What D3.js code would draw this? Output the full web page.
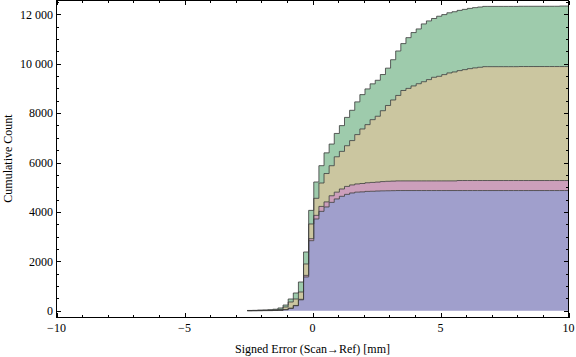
<!DOCTYPE html>
<html><head><meta charset="utf-8">
<script src="https://cdn.jsdelivr.net/npm/d3@7"></script>
<style>
html,body{margin:0;padding:0;background:#fff;}
svg{display:block;font-family:"Liberation Serif","Times New Roman",serif;}
</style></head><body>
<svg id="chart" width="576" height="357"></svg>
<script>
// ---- data (cumulative counts per bin, per group) ----
const binEdges = [-2.55,-2.35,-2.15,-1.95,-1.75,-1.55,-1.35,-1.15,-0.95,-0.75,-0.55,-0.35,-0.15,
  0.05,0.25,0.45,0.65,0.85,1.05,1.25,1.45,1.65,1.85,2.05,2.25,2.45,2.65,2.85,3.05,3.25,3.45,3.65,3.85,
  4.05,4.25,4.45,4.65,4.85,5.05,5.25,5.45,5.65,5.85,6.05,6.25,6.45,6.65,6.85,7.05,7.25,7.45,7.65,7.85,
  8.05,8.25,8.45,8.65,8.85,9.05,9.25,9.45,9.65,9.85];
const binWidth = 0.2;

const purpleCounts = [1,2,3,5,5,10,15,40,93,200,440,1365,2835,3713,4022,4200,4386,4524,4630,4710,4766,4800,4810,4830,4835,4845,4852,4856,4860,
  4865,4865,4865,4865,4865,4865,4865,4865,4865,4865,4865,4865,4865,4865,4865,4865,4865,
  4865,4865,4865,4865,4865,4865,4865,4865,4865,4865,4865,4865,4865,4865,4865,4865,4865];
const pinkCounts = [0,0,0,0,1,1,2,5,7,12,22,65,81,147,200,205,268,275,298,322,326,332,340,350,358,362,375,382,386,
  390,390,390,390,390,390,390,390,390,390,390,390,
  405,405,405,405,405,405,405,405,405,405,405,405,405,405,405,405,405,405,405,405,405,405];
const tanCounts = [2,3,7,10,14,19,33,105,252,262,295,461,595,690,948,1149,1216,1433,1522,1648,
  1795,1998,2208,2353,2541,2665,2870,3070,3285,3460,3660,3745,3845,3935,4015,4101,4195,4235,4303,4371,
  4411,4450,4490,4530,4560,4585,
  4610,4610,4610,4610,4610,4610,4610,
  4615,4615,4615,4615,4615,4615,4615,4615,4615,4615];
const greenCounts = [7,10,15,15,20,30,60,80,122,243,405,486,551,661,701,836,877,944,1043,1146,
  1227,1324,1390,1446,1450,1457,1465,1512,1630,1800,1899,2055,2160,2218,2341,2377,2380,2432,2430,2435,
  2438,2440,2440,2440,2440,2440,2440,2440,2440,2440,2440,2440,2440,2440,2440,2440,2440,2440,2440,2440,2440,
  2450,2450];

const seriesKeys = ["purple","pink","tan","green"];
const seriesColors = ["#a09fcc","#cc9fbb","#cbc6a0","#9ecbac"];

const xMajorTicks = [-10,-5,0,5,10];
const xMinorTicks = [-9,-8,-7,-6,-4,-3,-2,-1,1,2,3,4,6,7,8,9];
const yMajorTicks = [0,2000,4000,6000,8000,10000,12000];
const yMinorTicks = [500,1000,1500,2500,3000,3500,4500,5000,5500,6500,7000,7500,8500,9000,9500,10500,11000,11500,12500];
const yTickLabels = ["0","2000","4000","6000","8000","10 000","12 000"];
const xTickLabels = ["\u221210","\u22125","0","5","10"];
const xTitle = "Signed Error (Scan\u2192Ref) [mm]";
const yTitle = "Cumulative Count";

// ---- layout ----
const svg = d3.select("#chart");
const L = 56.5, R = 568.5, T = 0.5, B = 317.5;
const x = d3.scaleLinear().domain([-10,10]).range([L,R]);
const y = d3.scaleLinear().domain([0,12000]).range([310.7,14.3]);

const rows = binEdges.map((e,i)=>({x0:e, purple:purpleCounts[i], pink:pinkCounts[i], tan:tanCounts[i], green:greenCounts[i]}));
const last = rows[rows.length-1];
rows.push(Object.assign({}, last, {x0: last.x0 + binWidth}));

const stacked = d3.stack().keys(seriesKeys)(rows);

svg.append("defs").append("clipPath").attr("id","clip")
  .append("rect").attr("x",L).attr("y",T).attr("width",R-L).attr("height",B-T);

const g = svg.append("g").attr("clip-path","url(#clip)");
const area = d3.area().curve(d3.curveStepAfter)
  .x(d=>x(d.data.x0)).y0(d=>y(d[0])).y1(d=>y(d[1]));
const line = d3.line().curve(d3.curveStepAfter)
  .x(d=>x(d.data.x0)).y(d=>y(d[1]));

g.selectAll("path.area").data(stacked).join("path")
  .attr("class","area").attr("d",area)
  .attr("fill",(d,i)=>seriesColors[i]).attr("stroke","none");
g.selectAll("path.edge").data(stacked).join("path")
  .attr("class","edge").attr("d",line)
  .attr("fill","none").attr("stroke","#3a3a3a").attr("stroke-opacity",0.8).attr("stroke-width",1);

// ---- frame & ticks ----
const fr = svg.append("g").attr("stroke","#000").attr("stroke-width",1).attr("shape-rendering","crispEdges");
fr.append("rect").attr("x",L).attr("y",T).attr("width",R-L).attr("height",B-T).attr("fill","none");
function xt(v,len){
  const px = Math.round(x(v)) + 0.5;
  fr.append("line").attr("x1",px).attr("x2",px).attr("y1",B).attr("y2",B-len);
  fr.append("line").attr("x1",px).attr("x2",px).attr("y1",T).attr("y2",T+len);
}
function yt(v,len){
  const py = Math.round(y(v)) + 0.5;
  fr.append("line").attr("x1",L).attr("x2",L+len).attr("y1",py).attr("y2",py);
  fr.append("line").attr("x1",R).attr("x2",R-len).attr("y1",py).attr("y2",py);
}
xMajorTicks.forEach(v=>xt(v,4.5));
xMinorTicks.forEach(v=>xt(v,2.5));
yMajorTicks.forEach(v=>yt(v,4.5));
yMinorTicks.forEach(v=>yt(v,2.5));

const lab = svg.append("g").attr("fill","#000").attr("font-size","12px");
lab.selectAll("text.xl").data(xMajorTicks).join("text").attr("class","xl")
  .attr("x",d=>x(d)).attr("y",331.5).attr("text-anchor","middle")
  .text((d,i)=>xTickLabels[i]);
lab.selectAll("text.yl").data(yMajorTicks).join("text").attr("class","yl")
  .attr("x",53).attr("y",d=>y(d)+4.2).attr("text-anchor","end")
  .text((d,i)=>yTickLabels[i]);
lab.append("text").attr("x",312.5).attr("y",352.5).attr("text-anchor","middle").text(xTitle);
lab.append("text").attr("transform","translate(11.5,158.5) rotate(-90)").attr("text-anchor","middle").text(yTitle);
</script>
</body></html>
